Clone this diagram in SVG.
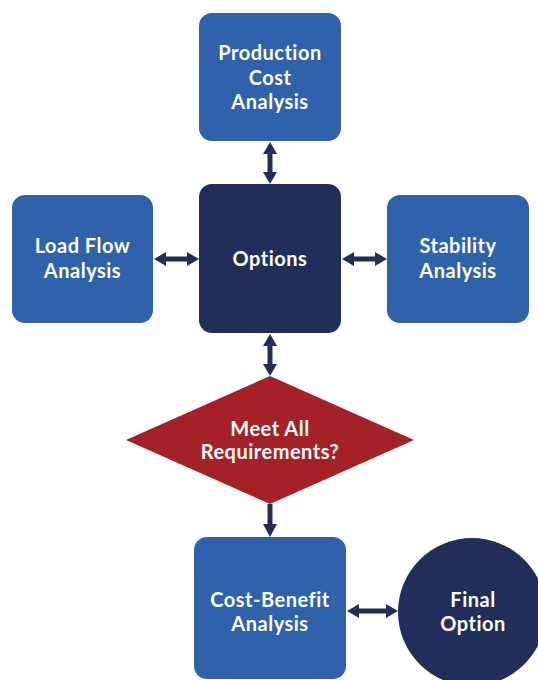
<svg xmlns="http://www.w3.org/2000/svg" width="538" height="680" viewBox="0 0 538 680">
<style>
.blue{fill:#2f62ab}
.navy{fill:#212e59}
.red{fill:#a32127}
.arr{fill:#212e59}
text{font-family:Lato,"Open Sans","Liberation Sans",sans-serif;font-weight:bold;font-size:20px;letter-spacing:0.5px;fill:#ffffff;text-anchor:middle}
</style>
<rect width="538" height="680" fill="#ffffff"/>
<g id="connectors">
<polygon class="arr" points="270,142 277,154 272.5,154 272.5,172 277,172 270,184 263,172 267.5,172 267.5,154 263,154"/>
<polygon class="arr" points="154,259 166,252 166,256.5 187,256.5 187,252 199,259 187,266 187,261.5 166,261.5 166,266"/>
<polygon class="arr" points="342,259 354,252 354,256.5 375,256.5 375,252 387,259 375,266 375,261.5 354,261.5 354,266"/>
<polygon class="arr" points="270,334 277,346 272.5,346 272.5,364 277,364 270,376 263,364 267.5,364 267.5,346 263,346"/>
<polygon class="arr" points="267.5,504 272.5,504 272.5,524 277,524 270,537 263,524 267.5,524"/>
<polygon class="arr" points="347,611 359,604 359,608.5 386,608.5 386,604 398,611 386,618 386,613.5 359,613.5 359,618"/>
</g>
<g id="production">
<rect class="blue" x="199" y="13" width="142" height="128" rx="13"/>
<text x="270" y="60">Production</text>
<text x="270" y="85">Cost</text>
<text x="270" y="109">Analysis</text>
</g>
<g id="options">
<rect class="navy" x="199" y="184" width="142" height="149" rx="13"/>
<text x="270" y="266">Options</text>
</g>
<g id="loadflow">
<rect class="blue" x="12" y="195" width="141" height="128" rx="13"/>
<text x="82.5" y="253">Load Flow</text>
<text x="82.5" y="278">Analysis</text>
</g>
<g id="stability">
<rect class="blue" x="387" y="195" width="142" height="128" rx="13"/>
<text x="458" y="253">Stability</text>
<text x="458" y="278">Analysis</text>
</g>
<g id="decision">
<polygon class="red" points="270,376 414,440 270,504 126,440"/>
<text x="270" y="436">Meet All</text>
<text x="270" y="459">Requirements?</text>
</g>
<g id="costbenefit">
<rect class="blue" x="194" y="537" width="152" height="142" rx="13"/>
<text x="270" y="607">Cost-Benefit</text>
<text x="270" y="631">Analysis</text>
</g>
<g id="final">
<circle class="navy" cx="472" cy="612" r="74"/>
<text x="473" y="607">Final</text>
<text x="473" y="631">Option</text>
</g>
</svg>
